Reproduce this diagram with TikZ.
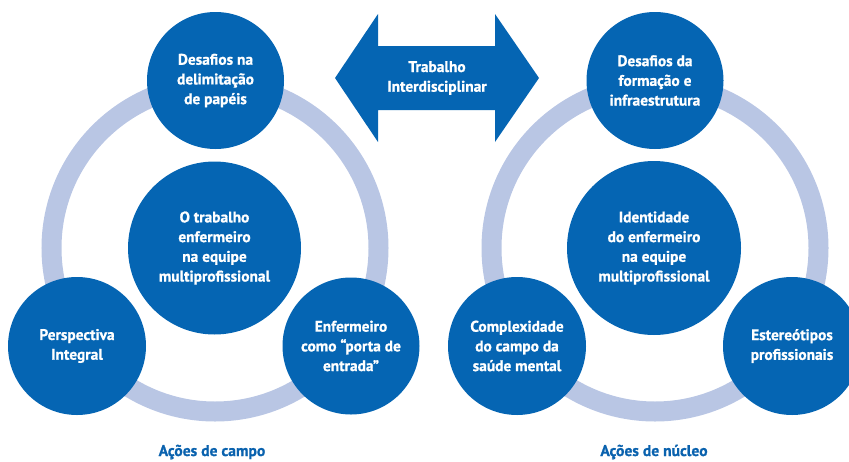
\documentclass[tikz,border=0pt]{standalone}
\usepackage{fontspec}
\setmainfont{PT Sans}[BoldFont={PT Sans Bold},BoldFeatures={FakeBold=0.9}]
\definecolor{blu}{HTML}{0565B3}
\definecolor{ringc}{HTML}{B9C6E4}
\definecolor{capc}{HTML}{0A62AE}
\begin{document}
\begin{tikzpicture}[x=1pt,y=-1pt,
  bub/.style={circle,fill=blu,inner sep=0pt,text=white,align=center,
    font=\fontsize{15.4}{19.7}\selectfont\bfseries},
  ringline/.style={draw=ringc,line width=20pt},
  capt/.style={text=capc,font=\fontsize{15.6}{16}\selectfont\bfseries}]
\useasboundingbox (0,0) rectangle (849,461);
\clip (0,0) rectangle (849,461);
% rings
\draw[ringline] (215,248) circle[radius=163.5];
\draw[ringline] (655,248) circle[radius=163.5];
% left group
\node[bub,minimum size=137pt] (lt) at (215.5,80.5) {Desafios na\\delimitação\\de papéis};
\node[bub,minimum size=173pt] (lc) at (214.5,248) {O trabalho\\enfermeiro\\na equipe\\multiprofissional};
\node[bub,minimum size=138pt] (lbl) at (77,346) {Perspectiva\\Integral};
\node[bub,minimum size=137pt] (lbr) at (351,346) {Enfermeiro\\como “porta de\\entrada”};
\node[capt] (lcap) at (212,452) {Ações de campo};
% right group
\node[bub,minimum size=137pt] (rt) at (655,80.5) {Desafios da\\formação e\\infraestrutura};
\node[bub,minimum size=174pt] (rc) at (654,248) {Identidade\\do enfermeiro\\na equipe\\multiprofissional};
\node[bub,minimum size=138pt] (rbl) at (517,346) {Complexidade\\do campo da\\saúde mental};
\node[bub,minimum size=138pt] (rbr) at (792,346) {Estereótipos\\profissionais};
\node[capt] (rcap) at (654,452) {Ações de núcleo};
% double arrow
\fill[blu] (335,78) -- (378,14) -- (378,46) -- (495,46) -- (495,14) -- (539,78)
  -- (495,142) -- (495,110) -- (378,110) -- (378,142) -- cycle;
\node[text=white,align=center,font=\fontsize{15.4}{19.7}\selectfont\bfseries] (arr) at (437,78) {Trabalho\\Interdisciplinar};
\end{tikzpicture}
\end{document}
